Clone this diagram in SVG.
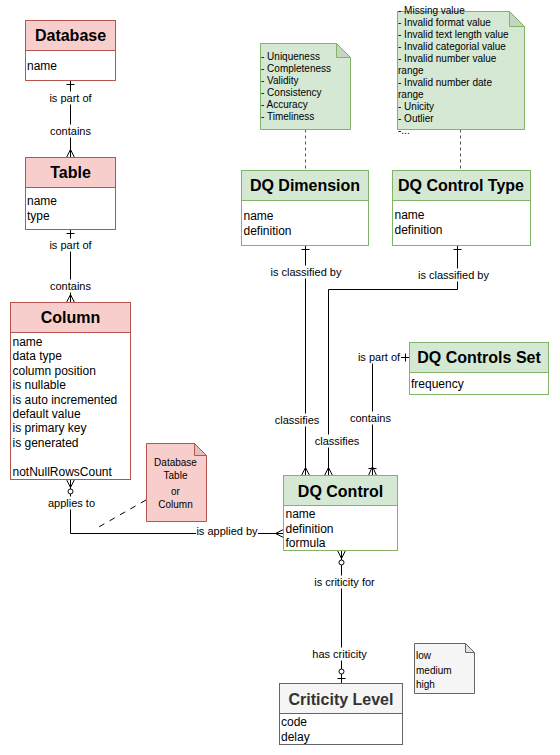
<svg xmlns="http://www.w3.org/2000/svg" width="560" height="755" viewBox="0 0 560 755">
<style>
.pk-h{fill:#f8cecc;stroke:#b85450}
.pk-b{fill:#ffffff;stroke:#b85450}
.gr-h{fill:#d5e8d4;stroke:#82b366}
.gr-b{fill:#ffffff;stroke:#82b366}
.gy-h{fill:#f5f5f5;stroke:#666666}
.gy-b{fill:#ffffff;stroke:#666666}
.title{font-family:"Liberation Sans",Arial,sans-serif;font-size:16px;font-weight:bold;text-anchor:middle;fill:#000}
.attr{font-family:"Liberation Sans",Arial,sans-serif;font-size:12px;fill:#000}
.lbl{font-family:"Liberation Sans",Arial,sans-serif;font-size:11px;text-anchor:middle;fill:#000}
.nt{font-family:"Liberation Sans",Arial,sans-serif;font-size:10px;fill:#000}
.edge{fill:none;stroke:#000;stroke-width:1}
.lblbg{fill:#ffffff}
.fold{fill:#000;fill-opacity:0.08}
.dash{fill:none;stroke:#555;stroke-dasharray:3 3}
</style>
<defs>
<marker id="erOne" markerUnits="userSpaceOnUse" orient="auto-start-reverse" overflow="visible" markerWidth="1" markerHeight="1" refX="0" refY="0">
<path d="M-4,-4 L-4,4" fill="none" stroke="#000"/>
</marker>
<marker id="erMany" markerUnits="userSpaceOnUse" orient="auto-start-reverse" overflow="visible" markerWidth="1" markerHeight="1" refX="0" refY="0">
<path d="M-8,0 L0,-4 M-8,0 L0,4 M-8,0 L0,0" fill="none" stroke="#000"/>
</marker>
<marker id="erOneToMany" markerUnits="userSpaceOnUse" orient="auto-start-reverse" overflow="visible" markerWidth="1" markerHeight="1" refX="0" refY="0">
<path d="M-9,0 L0,-4 M-9,0 L0,4 M-9,0 L0,0 M-7,-4 L-7,4" fill="none" stroke="#000"/>
</marker>
<marker id="erZeroToMany" markerUnits="userSpaceOnUse" orient="auto-start-reverse" overflow="visible" markerWidth="1" markerHeight="1" refX="0" refY="0">
<path d="M-8,0 L0,-4 M-8,0 L0,4 M-8,0 L0,0" fill="none" stroke="#000"/>
<circle cx="-12" cy="0" r="2.5" fill="#fff" stroke="#000"/>
</marker>
<marker id="erZeroToOne" markerUnits="userSpaceOnUse" orient="auto-start-reverse" overflow="visible" markerWidth="1" markerHeight="1" refX="0" refY="0">
<path d="M-5,-4 L-5,4 M-5,0 L0,0" fill="none" stroke="#000"/>
<circle cx="-12" cy="0" r="2.5" fill="#fff" stroke="#000"/>
</marker>
</defs>
<rect x="0" y="0" width="560" height="755" fill="#ffffff"/>

<g id="connectors">
<path class="edge" d="M70.5,80.5 V157.5" marker-start="url(#erOne)" marker-end="url(#erMany)"/>
<path class="edge" d="M70.5,229.5 V302.5" marker-start="url(#erOne)" marker-end="url(#erMany)"/>
<path class="edge" d="M70.5,479.5 V533.5 H283.5" marker-start="url(#erZeroToMany)" marker-end="url(#erMany)"/>
<path class="edge" d="M305.5,245.5 V475.5" marker-start="url(#erOne)" marker-end="url(#erMany)"/>
<path class="edge" d="M457.5,245.5 V289.5 H328.5 V475.5" marker-start="url(#erOne)" marker-end="url(#erMany)"/>
<path class="edge" d="M409.5,357.5 H372.5 V475.5" marker-start="url(#erOne)" marker-end="url(#erOneToMany)"/>
<path class="edge" d="M341.5,550.5 V683.5" marker-start="url(#erZeroToMany)" marker-end="url(#erZeroToOne)"/>
<path class="dash" d="M305.5,129.5 V170.5"/>
<path class="dash" d="M460.5,129.5 V170.5"/>
<path d="M146,500 L97,528" fill="none" stroke="#000" stroke-dasharray="6 6"/>

<rect class="lblbg" x="48" y="91.5" width="44" height="13"/>
<text class="lbl" x="70.5" y="102">is part of</text>
<rect class="lblbg" x="49" y="124.5" width="43" height="13"/>
<text class="lbl" x="70.5" y="135">contains</text>
<rect class="lblbg" x="48" y="238.5" width="44" height="13"/>
<text class="lbl" x="70.5" y="249">is part of</text>
<rect class="lblbg" x="49" y="279.5" width="43" height="13"/>
<text class="lbl" x="70.5" y="290">contains</text>
<rect class="lblbg" x="47" y="496.5" width="49" height="13"/>
<text class="lbl" x="71.5" y="507">applies to</text>
<rect class="lblbg" x="196" y="524.5" width="62" height="13"/>
<text class="lbl" x="227" y="535">is applied by</text>
<rect class="lblbg" x="269" y="265.5" width="73" height="13"/>
<text class="lbl" x="306" y="276">is classified by</text>
<rect class="lblbg" x="417" y="268.5" width="73" height="13"/>
<text class="lbl" x="453.5" y="279">is classified by</text>
<rect class="lblbg" x="273.5" y="413.5" width="47" height="13"/>
<text class="lbl" x="297" y="424">classifies</text>
<rect class="lblbg" x="313.5" y="434.5" width="47" height="13"/>
<text class="lbl" x="337" y="445">classifies</text>
<rect class="lblbg" x="357" y="350.5" width="44" height="13"/>
<text class="lbl" x="379" y="361">is part of</text>
<rect class="lblbg" x="349" y="411.5" width="43" height="13"/>
<text class="lbl" x="370.5" y="422">contains</text>
<rect class="lblbg" x="313" y="575.5" width="63" height="13"/>
<text class="lbl" x="344.5" y="586">is criticity for</text>
<rect class="lblbg" x="312" y="647.5" width="56" height="13"/>
<text class="lbl" x="339.5" y="658">has criticity</text>
</g>

<g id="database">
<rect class="pk-b" x="25.5" y="20.5" width="90" height="60"/>
<rect class="pk-h" x="25.5" y="20.5" width="90" height="30"/>
<text class="title" x="70.5" y="41">Database</text>
<text class="attr" x="27" y="70">name</text>
</g>

<g id="table">
<rect class="pk-b" x="25.5" y="157.5" width="90" height="72"/>
<rect class="pk-h" x="25.5" y="157.5" width="90" height="30"/>
<text class="title" x="70.5" y="178">Table</text>
<text class="attr" x="27" y="205">name</text>
<text class="attr" x="27" y="219.5">type</text>
</g>

<g id="column">
<rect class="pk-b" x="10.5" y="302.5" width="120" height="177"/>
<rect class="pk-h" x="10.5" y="302.5" width="120" height="30"/>
<text class="title" x="70.5" y="323">Column</text>
<text class="attr" x="12.5" y="346">name</text>
<text class="attr" x="12.5" y="360.4">data type</text>
<text class="attr" x="12.5" y="374.8">column position</text>
<text class="attr" x="12.5" y="389.2">is nullable</text>
<text class="attr" x="12.5" y="403.6">is auto incremented</text>
<text class="attr" x="12.5" y="418">default value</text>
<text class="attr" x="12.5" y="432.4">is primary key</text>
<text class="attr" x="12.5" y="446.8">is generated</text>
<text class="attr" x="12.5" y="475.6">notNullRowsCount</text>
</g>

<g id="note-scope">
<path class="pk-h" d="M146.5,443.5 H194.5 L206.5,455.5 V521.5 H146.5 Z"/>
<path class="fold" d="M194.5,443.5 V455.5 H206.5 Z"/>
<path d="M194.5,443.5 V455.5 H206.5" fill="none" stroke="#b85450"/>
<text class="nt" x="175.5" y="465.5" text-anchor="middle">Database</text>
<text class="nt" x="175.5" y="479" text-anchor="middle">Table</text>
<text class="nt" x="175.5" y="494.5" text-anchor="middle">or</text>
<text class="nt" x="175.5" y="507.5" text-anchor="middle">Column</text>
</g>

<g id="note-dimensions">
<path class="gr-h" d="M260.5,43.5 H336.5 L350.5,57.5 V129.5 H260.5 Z"/>
<path class="fold" d="M336.5,43.5 V57.5 H350.5 Z"/>
<path d="M336.5,43.5 V57.5 H350.5" fill="none" stroke="#82b366"/>
<text class="nt" x="261" y="60.2">- Uniqueness</text>
<text class="nt" x="261" y="72.2">- Completeness</text>
<text class="nt" x="261" y="84.2">- Validity</text>
<text class="nt" x="261" y="96.2">- Consistency</text>
<text class="nt" x="261" y="108.2">- Accuracy</text>
<text class="nt" x="261" y="120.2">- Timeliness</text>
</g>

<g id="note-control-types">
<path class="gr-h" d="M397.5,11.5 H509.5 L524.5,26.5 V129.5 H397.5 Z"/>
<path class="fold" d="M509.5,11.5 V26.5 H524.5 Z"/>
<path d="M509.5,11.5 V26.5 H524.5" fill="none" stroke="#82b366"/>
<text class="nt" x="398" y="14.2">- Missing value</text>
<text class="nt" x="398" y="26.2">- Invalid format value</text>
<text class="nt" x="398" y="38.2">- Invalid text length value</text>
<text class="nt" x="398" y="50.2">- Invalid categorial value</text>
<text class="nt" x="398" y="62.2">- Invalid number value</text>
<text class="nt" x="398" y="74.2">range</text>
<text class="nt" x="398" y="86.2">- Invalid number date</text>
<text class="nt" x="398" y="98.2">range</text>
<text class="nt" x="398" y="110.2">- Unicity</text>
<text class="nt" x="398" y="122.2">- Outlier</text>
<text class="nt" x="398" y="134.2">-...</text>
</g>

<g id="dq-dimension">
<rect class="gr-b" x="241.5" y="170.5" width="127" height="75"/>
<rect class="gr-h" x="241.5" y="170.5" width="127" height="30"/>
<text class="title" x="305" y="191">DQ Dimension</text>
<text class="attr" x="243.5" y="220">name</text>
<text class="attr" x="243.5" y="234.5">definition</text>
</g>

<g id="dq-control-type">
<rect class="gr-b" x="392.5" y="170.5" width="138" height="75"/>
<rect class="gr-h" x="392.5" y="170.5" width="138" height="30"/>
<text class="title" x="461" y="191">DQ Control Type</text>
<text class="attr" x="394.5" y="219">name</text>
<text class="attr" x="394.5" y="234">definition</text>
</g>

<g id="dq-controls-set">
<rect class="gr-b" x="409.5" y="342.5" width="139" height="52"/>
<rect class="gr-h" x="409.5" y="342.5" width="139" height="30"/>
<text class="title" x="479" y="363">DQ Controls Set</text>
<text class="attr" x="411" y="388">frequency</text>
</g>

<g id="dq-control">
<rect class="gr-b" x="283.5" y="475.5" width="114" height="75"/>
<rect class="gr-h" x="283.5" y="475.5" width="114" height="30"/>
<text class="title" x="340.5" y="496.5">DQ Control</text>
<text class="attr" x="285.5" y="518">name</text>
<text class="attr" x="285.5" y="533">definition</text>
<text class="attr" x="285.5" y="546.5">formula</text>
</g>

<g id="criticity-level">
<rect class="gy-b" x="279.5" y="683.5" width="123" height="61"/>
<rect class="gy-h" x="279.5" y="683.5" width="123" height="30"/>
<text class="title" x="341" y="705" style="fill:#333333">Criticity Level</text>
<text class="attr" x="281" y="726">code</text>
<text class="attr" x="281" y="741">delay</text>
</g>

<g id="note-levels">
<path class="gy-h" d="M414.5,643.5 H465.5 L474.5,652.5 V693.5 H414.5 Z"/>
<path class="fold" d="M465.5,643.5 V652.5 H474.5 Z"/>
<path d="M465.5,643.5 V652.5 H474.5" fill="none" stroke="#666666"/>
<text class="nt" x="416" y="658.5">low</text>
<text class="nt" x="416" y="673.5">medium</text>
<text class="nt" x="416" y="687.5">high</text>
</g>
</svg>
